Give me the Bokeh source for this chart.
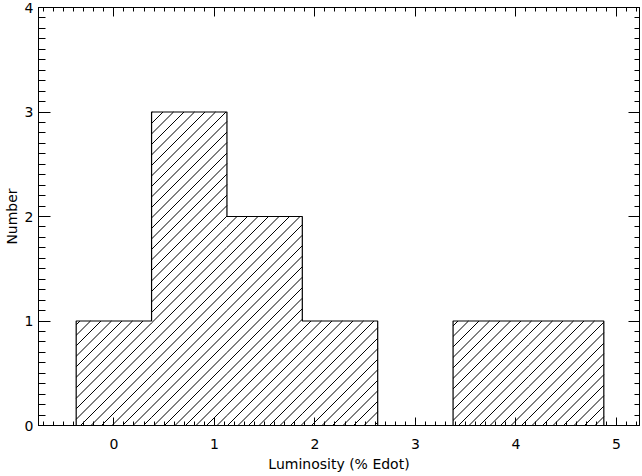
from bokeh.plotting import figure
from bokeh.models import LinearAxis, SingleIntervalTicker, Range1d
from bokeh.embed import file_html
from bokeh.resources import INLINE

# ---- data ----
bin_centers = [0.0, 0.75, 1.5, 2.25, 3.0, 3.75, 4.5]
counts = [1, 3, 2, 1, 0, 1, 1]
bin_width = 0.75
x_ticks = [0, 1, 2, 3, 4, 5]
y_ticks = [0, 1, 2, 3, 4]
x_label = "Luminosity (% Edot)"
y_label = "Number"

FONT = "DejaVu Sans"
FS = "14px"

X0, X1 = -0.75, 5.23
Y0, Y1 = 0, 4
FW, FH = 601, 418          # frame size in px
HATCH = 10.5               # hatch spacing in px (45 degree lines)

p = figure(frame_width=FW, frame_height=FH, output_backend="svg", toolbar_location=None,
           x_range=Range1d(X0, X1), y_range=Range1d(Y0, Y1),
           x_axis_location=None, y_axis_location=None,
           min_border_left=30, min_border_right=2, min_border_top=7, min_border_bottom=46)
p.xgrid.visible = False
p.ygrid.visible = False
p.outline_line_color = "black"
p.outline_line_width = 1
p.background_fill_color = "white"
p.border_fill_color = "white"

# bars (white body)
p.vbar(x=bin_centers, width=bin_width, top=counts, bottom=0,
       fill_color="white", line_color=None)

# 45-degree "/" hatching computed from the bar geometry
kx = FW / (X1 - X0)
ky = FH / (Y1 - Y0)
hx, hy = [], []
for c, n in zip(bin_centers, counts):
    if n <= 0:
        continue
    L = (c - bin_width / 2 - X0) * kx
    R = (c + bin_width / 2 - X0) * kx
    H = (n - Y0) * ky
    k = int((L - H) // HATCH) - 1
    while k * HATCH <= R:
        off = k * HATCH
        xa = max(L, off)
        xb = min(R, off + H)
        if xb > xa:
            hx.append([xa / kx + X0, xb / kx + X0])
            hy.append([(xa - off) / ky + Y0, (xb - off) / ky + Y0])
        k += 1
p.multi_line(hx, hy, line_color="black", line_width=1)

# stepped outline
xs = [bin_centers[0] - bin_width / 2]
ys = [0]
for c, n in zip(bin_centers, counts):
    xs += [c - bin_width / 2, c + bin_width / 2]
    ys += [n, n]
xs.append(bin_centers[-1] + bin_width / 2)
ys.append(0)
p.line(xs, ys, line_color="black", line_width=1.2)


def style(ax, ticks, major_in, minor_in, show_labels):
    ax.ticker = SingleIntervalTicker(interval=1, num_minor_ticks=10)
    ax.axis_line_color = "black"
    ax.major_tick_line_color = "black"
    ax.minor_tick_line_color = "black"
    ax.major_tick_in = major_in
    ax.major_tick_out = 0
    ax.minor_tick_in = minor_in
    ax.minor_tick_out = 0
    ax.major_label_text_font = FONT
    ax.major_label_text_color = "black"
    ax.major_label_text_font_size = FS
    ax.axis_label_text_font = FONT
    ax.axis_label_text_font_style = "normal"
    ax.axis_label_text_color = "black"
    ax.axis_label_text_font_size = FS
    if not show_labels:
        ax.major_label_overrides = {t: "" for t in ticks}
        ax.major_label_standoff = 0


bottom = LinearAxis(axis_label=x_label)
style(bottom, x_ticks, 8, 4, True)
bottom.major_label_standoff = 13
bottom.axis_label_standoff = 4
p.add_layout(bottom, "below")

left = LinearAxis(axis_label=y_label)
style(left, y_ticks, 12, 7, True)
left.major_label_standoff = 5
left.axis_label_standoff = 2
p.add_layout(left, "left")

top = LinearAxis()
style(top, x_ticks, 9, 4, False)
p.add_layout(top, "above")

right = LinearAxis()
style(right, y_ticks, 11, 5, False)
p.add_layout(right, "right")

open("out.html", "w").write(file_html(p, INLINE))
